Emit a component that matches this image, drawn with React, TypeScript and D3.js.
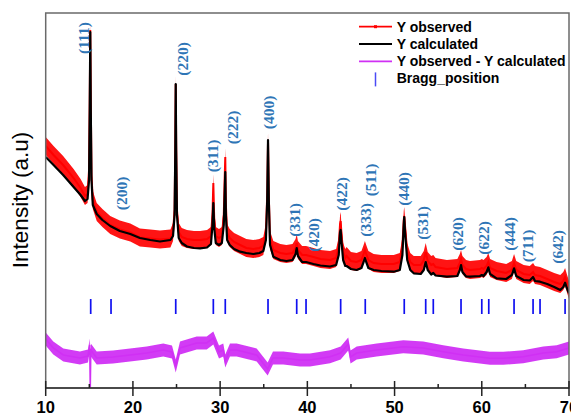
import React from "react";
import * as d3 from "d3";

// ---- data (2θ in degrees, intensity in arbitrary counts) ----
const twoTheta = [
  10.0, 10.9, 12.0, 13.2, 14.0, 14.5, 14.8, 14.97, 15.05, 15.11, 15.17, 15.25, 15.4, 15.85, 16.5, 17.4, 18.5, 19.7,
  20.8, 22.0, 23.1, 24.3, 24.6, 24.78, 24.86, 24.91, 24.96, 25.05, 25.25, 25.6, 26.2, 27.0, 27.7, 28.5, 28.95,
  29.12, 29.22, 29.32, 29.5, 29.87, 30.2, 30.42, 30.5, 30.59, 30.66, 30.8, 31.1, 31.6, 32.3, 33.0, 33.8, 34.5,
  34.95, 35.25, 35.4, 35.49, 35.58, 35.72, 36.1, 36.9, 37.6, 38.3, 38.65, 38.78, 38.92, 39.4, 39.85, 40.7, 41.5,
  42.6, 43.3, 43.6, 43.75, 43.82, 43.9, 44.1, 44.35, 44.5, 45.0, 45.65, 46.2, 46.45, 46.6, 46.75, 47.0, 47.6,
  48.5, 49.9, 50.6, 50.9, 51.05, 51.11, 51.2, 51.45, 51.8, 52.2, 53.0, 53.35, 53.57, 53.8, 54.2, 54.44, 54.7,
  56.0, 57.2, 57.48, 57.62, 57.78, 58.2, 58.65, 59.8, 60.0, 60.2, 60.55, 60.75, 60.95, 61.7, 62.8, 63.45, 63.7,
  63.95, 64.8, 65.5, 65.88, 66.1, 66.68, 67.5, 68.3, 69.0, 69.35, 69.55, 69.75, 70.0,
];

const yObserved = [
  2420, 2330, 2230, 2100, 2000, 1920, 1940, 2180, 2880, 3580, 2880, 2130, 1880, 1760, 1700, 1630, 1585, 1555,
  1505, 1495, 1485, 1495, 1560, 1780, 2430, 3040, 2430, 1780, 1560, 1510, 1490, 1480, 1480, 1490, 1520,
  1730, 2050, 1700, 1520, 1500, 1520, 1730, 2030, 2310, 1830, 1550, 1500, 1460, 1430, 1400, 1390, 1400,
  1420, 1560, 1930, 2470, 1930, 1480, 1380, 1350, 1340, 1350, 1400, 1450, 1380, 1330, 1330, 1310, 1290,
  1280, 1300, 1420, 1640, 1670, 1560, 1360, 1300, 1320, 1270, 1260, 1280, 1340, 1380, 1340, 1280, 1250,
  1240, 1240, 1260, 1420, 1680, 1720, 1620, 1360, 1260, 1230, 1230, 1280, 1360, 1270, 1230, 1240, 1210,
  1190, 1200, 1250, 1290, 1230, 1190, 1180, 1190, 1200, 1190, 1220, 1260, 1200, 1170, 1150, 1180, 1250,
  1180, 1140, 1130, 1160, 1130, 1120, 1090, 1060, 1040, 1070, 1110, 1050, 980,
];

const yCalculated = [
  2310, 2230, 2130, 2010, 1930, 1870, 1890, 2080, 2780, 3560, 2780, 2080, 1830, 1740, 1680, 1620, 1570, 1540,
  1500, 1480, 1465, 1480, 1520, 1730, 2380, 3040, 2380, 1730, 1500, 1450, 1415, 1400, 1397, 1405, 1440,
  1630, 1850, 1600, 1450, 1430, 1450, 1630, 1880, 2160, 1730, 1480, 1430, 1390, 1363, 1350, 1340, 1350,
  1370, 1480, 1880, 2480, 1880, 1430, 1313, 1280, 1270, 1280, 1340, 1400, 1320, 1260, 1260, 1240, 1225,
  1215, 1230, 1330, 1560, 1580, 1480, 1280, 1220, 1220, 1190, 1180, 1200, 1260, 1300, 1260, 1200, 1180,
  1170, 1163, 1180, 1330, 1630, 1710, 1560, 1280, 1180, 1147, 1140, 1180, 1260, 1180, 1135, 1150, 1125,
  1113, 1120, 1180, 1230, 1160, 1115, 1113, 1120, 1130, 1120, 1160, 1207, 1140, 1097, 1090, 1130, 1197,
  1120, 1080, 1075, 1110, 1070, 1063, 1040, 1010, 980, 1010, 1053, 1000, 947,
];

const diffTheta = [
  10.0, 10.87, 12.02, 13.93, 14.85, 15.05, 15.11, 15.17, 15.85, 17.72, 19.67, 21.58, 23.48, 24.48, 24.91,
  25.4, 27.31, 28.46, 29.22, 29.87, 30.36, 30.59, 31.13, 31.9, 34.19, 35.45, 36.06, 37.24, 39.16, 40.3, 42.6,
  43.82, 44.69, 44.95, 45.66, 47.95, 51.0, 53.29, 55.58, 57.88, 60.94, 62.46, 64.76, 67.05, 68.59, 70.0,
];
const yDifference = [
  490, 400, 330, 300, 320, 430, 0, 380, 300, 310, 330, 350, 380, 360, 220,
  400, 450, 450, 500, 360, 380, 270, 380, 380, 330, 190, 300, 300, 280, 280, 313,
  350, 440, 310, 350, 380, 413, 400, 363, 330, 297, 297, 313, 350, 363, 400,
];

const braggPositions = [
  15.16, 17.49, 24.91, 29.22, 30.59, 35.49, 38.78, 39.85, 43.82, 46.64, 51.11, 53.57, 54.44, 57.62, 60.0,
  60.8, 63.7, 65.88, 66.68, 69.55,
];

const hklLabels = [
  "(111)", "(200)", "(220)", "(311)", "(222)", "(400)", "(331)", "(420)", "(422)", "(333)", "(511)",
  "(440)", "(531)", "(620)", "(622)", "(444)", "(711)", "(642)",
];
const hklTheta = [
  14.28, 18.69, 25.63, 29.13, 31.45, 35.6, 38.58, 40.65, 43.86, 46.61, 47.19, 50.97, 53.26, 57.27, 60.25,
  63.23, 65.29, 68.73,
];
const hklIntensity = [
  3500, 1945, 3290, 2320, 2605, 2755, 1680, 1530, 1940, 1680, 2080, 1990, 1650, 1540, 1500, 1540, 1420, 1410,
];

const majorTicks = [10, 20, 30, 40, 50, 60, 70];
const minorTicks = [15, 25, 35, 45, 55, 65];

const legendLabels = ["Y observed", "Y calculated", "Y observed - Y calculated", "Bragg_position"];

// ---- layout / style ----
const W = 571;
const H = 417;
const M = { left: 45.7, right: 569, top: 13, bottom: 388 };
const BRAGG_TOP = 890;
const BRAGG_BOTTOM = 740;
const RED = "#ff0000";
const MAGENTA = "#d030f4";
const BLUE = "#1010f0";
const LABEL_BLUE = "#2e75b6";
const SANS = "'Liberation Sans', Arial, sans-serif";
const SERIF = "'Liberation Serif', 'Times New Roman', serif";

export default function App() {
  const x = d3.scaleLinear().domain([10, 70]).range([M.left, M.right]);
  const y = d3.scaleLinear().domain([0, 3750]).range([M.bottom, M.top]);

  const obsBand = d3
    .area<number>()
    .x((_, i) => x(twoTheta[i]))
    .y0((d) => y(d) - 9)
    .y1((d) => y(d) + 9)(yObserved) as string;
  const obsLine = d3
    .line<number>()
    .x((_, i) => x(twoTheta[i]))
    .y((d) => y(d))(yObserved) as string;
  const calcLine = d3
    .line<number>()
    .x((_, i) => x(twoTheta[i]))
    .y((d) => y(d))(yCalculated) as string;
  const diffBand = d3
    .area<number>()
    .x((_, i) => x(diffTheta[i]))
    .y0((d) => y(d) - 6.5)
    .y1((d) => y(d) + 6.5)(yDifference) as string;
  const diffLine = d3
    .line<number>()
    .x((_, i) => x(diffTheta[i]))
    .y((d) => y(d))(yDifference) as string;

  const legendX = 396.7;
  const legendY0 = 31.5;
  const legendDy = 17.3;

  return (
    <svg width={W} height={H} style={{ position: "absolute", left: 0, top: 0, background: "#fff" }}>
      <defs>
        <clipPath id="plotclip">
          <rect x={M.left} y={M.top} width={M.right - M.left} height={M.bottom - M.top} />
        </clipPath>
      </defs>

      <g clipPath="url(#plotclip)">
        <path d={obsBand} fill={RED} opacity={0.92} />
        <path d={obsLine} fill="none" stroke={RED} strokeWidth={2} />
        <path d={calcLine} fill="none" stroke="#000" strokeWidth={2.2} strokeLinejoin="round" />
        {braggPositions.map((p, i) => (
          <line
            key={i}
            x1={x(p)}
            x2={x(p)}
            y1={y(BRAGG_TOP)}
            y2={y(BRAGG_BOTTOM)}
            stroke={BLUE}
            strokeWidth={1.7}
          />
        ))}
        <path d={diffBand} fill={MAGENTA} opacity={0.95} />
        <path d={diffLine} fill="none" stroke={MAGENTA} strokeWidth={1.6} />
      </g>

      {hklLabels.map((t, i) => (
        <text
          key={t}
          transform={`translate(${x(hklTheta[i])},${y(hklIntensity[i])}) rotate(-90)`}
          textAnchor="middle"
          dominantBaseline="central"
          fontFamily={SERIF}
          fontWeight="bold"
          fontSize={15.5}
          fill={LABEL_BLUE}
        >
          {t}
        </text>
      ))}

      {/* frame */}
      <rect
        x={M.left}
        y={M.top}
        width={M.right - M.left}
        height={M.bottom - M.top}
        fill="none"
        stroke="#6a6a6a"
        strokeWidth={1.5}
      />
      <line x1={M.left} x2={M.right} y1={M.bottom} y2={M.bottom} stroke="#333" strokeWidth={1.5} />
      {majorTicks.map((t) => (
        <g key={t}>
          <line x1={x(t)} x2={x(t)} y1={M.bottom - 7} y2={M.bottom + 8} stroke="#222" strokeWidth={1.5} />
          <text
            x={x(t)}
            y={413}
            textAnchor="middle"
            fontFamily={SANS}
            fontWeight="bold"
            fontSize={16.5}
            fill="#000"
          >
            {t}
          </text>
        </g>
      ))}
      {minorTicks.map((t) => (
        <line key={t} x1={x(t)} x2={x(t)} y1={M.bottom - 4} y2={M.bottom} stroke="#222" strokeWidth={1.5} />
      ))}

      <text
        transform={`translate(28,200) rotate(-90)`}
        textAnchor="middle"
        fontFamily={SANS}
        fontSize={22.5}
        fill="#000"
      >
        Intensity (a.u)
      </text>

      {/* legend */}
      <g>
        <line x1={359} x2={392} y1={legendY0 - 4.8} y2={legendY0 - 4.8} stroke={RED} strokeWidth={1.8} />
        <rect x={374} y={legendY0 - 6.3} width={3} height={3} fill={RED} />
        <line
          x1={359}
          x2={392}
          y1={legendY0 + legendDy - 4.8}
          y2={legendY0 + legendDy - 4.8}
          stroke="#000"
          strokeWidth={2}
        />
        <line
          x1={359}
          x2={392}
          y1={legendY0 + 2 * legendDy - 4.8}
          y2={legendY0 + 2 * legendDy - 4.8}
          stroke={MAGENTA}
          strokeWidth={1.8}
        />
        <line
          x1={375.5}
          x2={375.5}
          y1={legendY0 + 3 * legendDy - 11}
          y2={legendY0 + 3 * legendDy + 3}
          stroke="#4a4af5"
          strokeWidth={1.5}
        />
        {legendLabels.map((l, i) => (
          <text
            key={l}
            x={legendX}
            y={legendY0 + i * legendDy}
            fontFamily={SANS}
            fontWeight="bold"
            fontSize={14}
            fill="#000"
          >
            {l}
          </text>
        ))}
      </g>
    </svg>
  );
}
